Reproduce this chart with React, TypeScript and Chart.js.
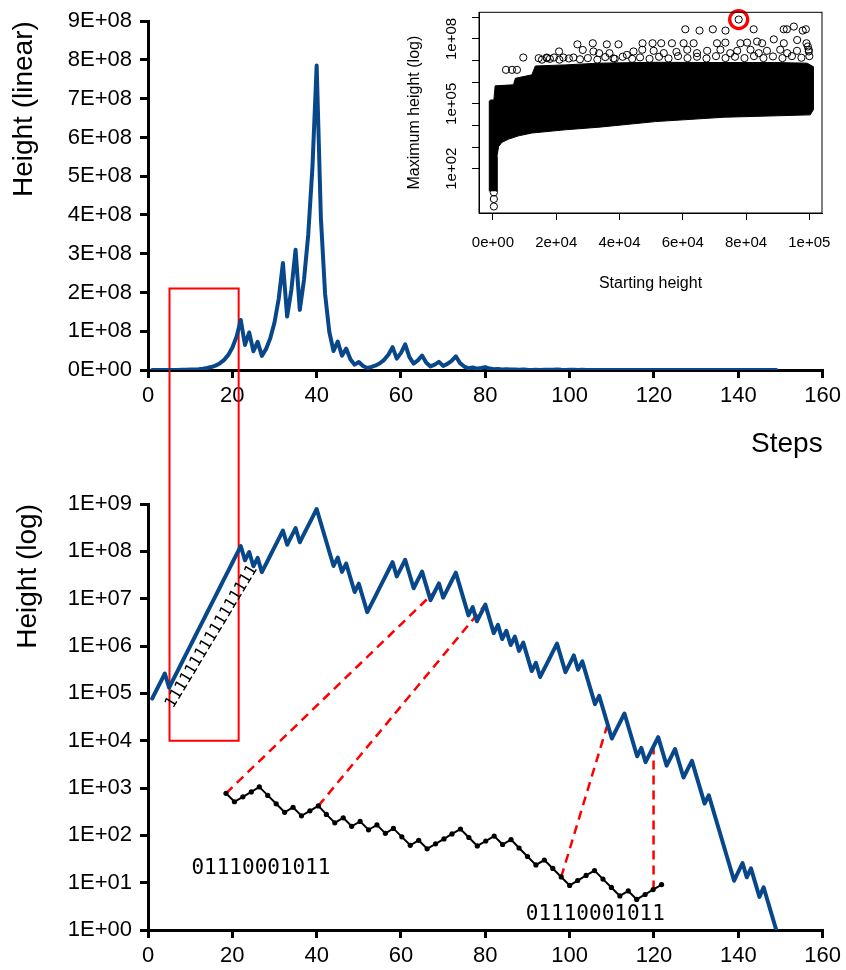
import React, { useEffect, useRef } from 'react';
import { Chart, registerables } from 'chart.js';

Chart.register(...registerables);

// ---------- data ----------
// Height at each step (step 1 = starting height 77671)
const heights = [
  77671, 116507, 174761, 262142, 131071, 196607, 294911, 442367, 663551, 995327,
  1492991, 2239487, 3359231, 5038847, 7558271, 11337407, 17006111, 25509167, 38263751, 57395627,
  86093441, 129140162, 64570081, 96855122, 48427561, 72641342, 36320671, 54481007, 81721511, 122582267,
  183873401, 275810102, 137905051, 206857577, 310286366, 155143183, 232714775, 349072163, 523608245, 785412368,
  392706184, 196353092, 98176546, 49088273, 73632410, 36816205, 55224308, 27612154, 13806077, 20709116,
  10354558, 5177279, 7765919, 11648879, 17473319, 26209979, 39314969, 58972454, 29486227, 44229341,
  66344012, 33172006, 16586003, 24879005, 37318508, 18659254, 9329627, 13994441, 20991662, 10495831,
  15743747, 23615621, 35423432, 17711716, 8855858, 4427929, 6641894, 3320947, 4981421, 7472132,
  3736066, 1868033, 2802050, 1401025, 2101538, 1050769, 1576154, 788077, 1182116, 591058,
  295529, 443294, 221647, 332471, 498707, 748061, 1122092, 561046, 280523, 420785,
  631178, 315589, 473384, 236692, 118346, 59173, 88760, 44380, 22190, 11095,
  16643, 24965, 37448, 18724, 9362, 4681, 7022, 3511, 5267, 7901,
  11852, 5926, 2963, 4445, 6668, 3334, 1667, 2501, 3752, 1876,
  938, 469, 704, 352, 176, 88, 44, 22, 11, 17,
  26, 13, 20, 10, 5, 8, 4, 2, 1,
];

// Black dotted pattern line (bottom panel)
const blackX = [
  18.5, 20.5, 22.5, 24.5, 26.4, 28.4, 30.4, 32.4, 34.4, 36.4,
  38.4, 40.4, 42.3, 44.3, 46.3, 48.3, 50.3, 52.3, 54.3, 56.3,
  58.2, 60.2, 62.2, 64.2, 66.2, 68.2, 70.2, 72.1, 74.1, 76.1,
  78.1, 80.1, 82.1, 84.1, 86.1, 88.0, 90.0, 92.0, 94.0, 96.0,
  98.0, 100.0, 101.9, 103.9, 105.9, 107.9, 109.9, 111.9, 113.9, 115.9,
  117.9, 119.8, 121.8,
];
const blackY = [
  773, 512, 651, 828, 1054, 698, 463, 307, 390, 258,
  329, 419, 277, 184, 234, 155, 197, 131, 166, 110,
  140, 92.8, 61.5, 78.3, 51.9, 66.0, 83.9, 107, 136, 90.1,
  59.7, 75.9, 96.6, 64.0, 81.4, 54.0, 35.7, 23.7, 30.1, 20.0,
  13.2, 8.76, 11.1, 14.2, 18.0, 11.9, 7.93, 5.25, 6.68, 4.43,
  5.63, 7.16, 9.12,
];

// Red dashed connectors [from, to]
const linkA = [{ x: 18.5, y: 773 }, { x: 68, y: 13994441 }];
const linkB = [{ x: 40.4, y: 419 }, { x: 80, y: 7472132 }];
const linkC = [{ x: 98.0, y: 13.2 }, { x: 109, y: 22190 }];
const linkD = [{ x: 119.9, y: 7.16 }, { x: 119.9, y: 10000 }];

// Red zoom rectangle
const rectSteps = [5.1, 21.5];
const rectTopHeight = 2.1e8; // in linear panel
const rectBottomHeight = 1e4; // in log panel

// Text annotations
const patternLabels = [
  { text: '01110001011', x: 10.3, y: 19.5 },
  { text: '01110001011', x: 89.6, y: 2.1 },
];
const oddRunLabel = { text: '11111111111111111', x: 15.1, y: 1.57e6, angle: -59 };

// Ticks
const stepTicks = [0, 20, 40, 60, 80, 100, 120, 140, 160];
const linTickValues = [0, 1e8, 2e8, 3e8, 4e8, 5e8, 6e8, 7e8, 8e8, 9e8];
const linTickLabels = ['0E+00', '1E+08', '2E+08', '3E+08', '4E+08', '5E+08', '6E+08', '7E+08', '8E+08', '9E+08'];
const logTickValues = [1, 1e1, 1e2, 1e3, 1e4, 1e5, 1e6, 1e7, 1e8, 1e9];
const logTickLabels = ['1E+00', '1E+01', '1E+02', '1E+03', '1E+04', '1E+05', '1E+06', '1E+07', '1E+08', '1E+09'];

// Inset: dense region outline (starting height, max height)
const insetMassX = [
  -1150, -1150, -800, 300, 700, 6500, 7100, 12300, 13400, 22900, 33500, 51400, 67700, 88700, 99300, 101200, 101200,
  100300, 73000, 51400, 33500, 22900, 12300, 8100, 5000, 2850, 1800, 1270, 1270,
];
const insetMassY = [
  9, 1.3e5, 1.51e5, 1.51e5, 6.76e5, 7.59e5, 1.51e6, 2.19e6, 5.62e6, 6.31e6, 7.59e6, 8.32e6, 8.13e6, 8.13e6, 7.59e6, 5.25e6, 5.25e4,
  3.09e4, 2.4e4, 1.51e4, 8318, 6310, 4467, 3311, 2344, 1660, 1072, 372, 9,
];
// Inset: individual open circles
const insetPointsX = [
  60800, 65300, 69500, 73500, 82400, 91900, 92900, 95100, 97900, 98900,
  9600, 16990, 19310, 20900, 22270, 25440, 26700, 28390, 31560, 31770,
  33560, 35990, 36830, 39680, 38100, 42320, 44430, 47280, 50450, 53190,
  56570, 60260, 63430, 70820, 73460, 78210, 80320, 83480, 85070, 88760,
  91930, 96150, 99100, 99520, 99840, 4120, 6020, 7600, 14460, 17100,
  47200, 50800, 54000, 58000, 61400, 64500, 67700, 71900, 75000, 77200,
  81400, 84000, 86600, 90800, 93000, 96100, 99800,
  15500, 18000, 21000, 24000, 27500, 30000, 33000, 35500, 38500, 41000,
  44000, 46500, 49500, 52500, 55500, 58500, 61500, 64500, 67500, 70500,
  73500, 76500, 79500, 82500, 85500, 88500, 91500, 94500, 97500, 100000,
  300, 300, 300, 77671,
];
const insetPointsY = [
  2.79e8, 2.43e8, 2.79e8, 2.43e8, 2.79e8, 2.79e8, 2.79e8, 3.72e8, 2.43e8, 2.79e8,
  1.38e7, 1.38e7, 1.38e7, 2.63e7, 1.38e7, 1.38e7, 5.62e7, 3.09e7, 6.31e7, 2.63e7,
  2.19e7, 5.62e7, 2.19e7, 5.62e7, 1.26e7, 1.82e7, 2.63e7, 6.31e7, 6.31e7, 6.31e7,
  6.31e7, 6.31e7, 6.31e7, 6.31e7, 6.76e7, 6.31e7, 6.76e7, 7.59e7, 6.31e7, 9.55e7,
  6.31e7, 8.91e7, 6.31e7, 4.47e7, 2.63e7, 3.72e6, 3.72e6, 3.72e6, 1.29e7, 1.29e7,
  3.16e7, 2.82e7, 2.2e7, 2.5e7, 3.16e7, 2.2e7, 2.82e7, 3.16e7, 2.2e7, 2.82e7,
  3.16e7, 2.2e7, 2.82e7, 3.16e7, 2.2e7, 2.82e7, 3.16e7,
  1.1e7, 1.2e7, 1.1e7, 1.25e7, 1.15e7, 1.3e7, 1.1e7, 1.45e7, 1.2e7, 1.5e7,
  1.2e7, 1.4e7, 1.2e7, 1.5e7, 1.25e7, 1.6e7, 1.3e7, 1.5e7, 1.25e7, 1.6e7,
  1.3e7, 1.5e7, 1.3e7, 1.6e7, 1.3e7, 1.55e7, 1.3e7, 1.6e7, 1.35e7, 1.6e7,
  1.8, 4, 8, 785412368,
];
const insetHighlight = [{ x: 77671, y: 785412368 }];
const insetXTickValues = [0, 2e4, 4e4, 6e4, 8e4, 1e5];
const insetXTickLabels = ['0e+00', '2e+04', '4e+04', '6e+04', '8e+04', '1e+05'];
const insetYTickValues = [1e2, 1e3, 1e4, 1e5, 1e6, 1e7, 1e8, 1e9];
const insetYLabelValues = [1e2, 1e5, 1e8];
const insetYLabelTexts = ['1e+02', '1e+05', '1e+08'];

// ---------- styles ----------
const SANS = "'Liberation Sans', Arial, Helvetica, sans-serif";
const MONO = "'DejaVu Sans Mono', monospace";
const BLUE = '#08488a';
const RED = '#ff0000';

const mainGrid = { drawOnChartArea: false, drawTicks: true, tickLength: 8, color: '#000', lineWidth: 3 };
const mainBorder = { color: '#000', width: 3 };
const mainTickFont = { size: 22, family: SANS };

const topRectPlugin = {
  id: 'topRect',
  beforeDatasetsDraw(chart: any) {
    const xs = chart.scales.x;
    const ys = chart.scales.y;
    const l = xs.getPixelForValue(rectSteps[0]);
    const r = xs.getPixelForValue(rectSteps[1]);
    const t = ys.getPixelForValue(rectTopHeight);
    const ctx = chart.ctx;
    ctx.save();
    ctx.strokeStyle = RED;
    ctx.lineWidth = 2;
    ctx.beginPath();
    ctx.moveTo(l, chart.height);
    ctx.lineTo(l, t);
    ctx.lineTo(r, t);
    ctx.lineTo(r, chart.height);
    ctx.stroke();
    ctx.restore();
  },
};

const bottomRectPlugin = {
  id: 'bottomRect',
  beforeDatasetsDraw(chart: any) {
    const xs = chart.scales.x;
    const ys = chart.scales.y;
    const l = xs.getPixelForValue(rectSteps[0]);
    const r = xs.getPixelForValue(rectSteps[1]);
    const b = ys.getPixelForValue(rectBottomHeight);
    const ctx = chart.ctx;
    ctx.save();
    ctx.strokeStyle = RED;
    ctx.lineWidth = 2;
    ctx.beginPath();
    ctx.moveTo(l, 0);
    ctx.lineTo(l, b);
    ctx.lineTo(r, b);
    ctx.lineTo(r, 0);
    ctx.stroke();
    ctx.restore();
  },
  afterDatasetsDraw(chart: any) {
    const xs = chart.scales.x;
    const ys = chart.scales.y;
    const ctx = chart.ctx;
    ctx.save();
    ctx.fillStyle = '#000';
    ctx.font = `21px ${MONO}`;
    ctx.textAlign = 'left';
    ctx.textBaseline = 'middle';
    patternLabels.forEach((lab) => {
      ctx.fillText(lab.text, xs.getPixelForValue(lab.x), ys.getPixelForValue(lab.y));
    });
    ctx.translate(xs.getPixelForValue(oddRunLabel.x), ys.getPixelForValue(oddRunLabel.y));
    ctx.rotate((oddRunLabel.angle * Math.PI) / 180);
    ctx.font = `16px ${MONO}`;
    ctx.textAlign = 'center';
    ctx.fillText(oddRunLabel.text, 0, 0);
    ctx.restore();
  },
};

const insetPlugin = {
  id: 'insetBox',
  afterDraw(chart: any) {
    const { ctx, chartArea } = chart;
    const ys = chart.scales.y;
    ctx.save();
    ctx.strokeStyle = '#000';
    ctx.lineWidth = 1;
    ctx.strokeRect(chartArea.left, chartArea.top, chartArea.right - chartArea.left, chartArea.bottom - chartArea.top);
    ctx.fillStyle = '#000';
    ctx.font = `15px ${SANS}`;
    ctx.textAlign = 'center';
    ctx.textBaseline = 'middle';
    insetYLabelValues.forEach((v, i) => {
      const y = ys.getPixelForValue(v);
      ctx.save();
      ctx.translate(chartArea.left - 27, y);
      ctx.rotate(-Math.PI / 2);
      ctx.fillText(insetYLabelTexts[i], 0, 0);
      ctx.restore();
    });
    ctx.restore();
  },
};

export default function App() {
  const topRef = useRef<HTMLCanvasElement>(null);
  const botRef = useRef<HTMLCanvasElement>(null);
  const insRef = useRef<HTMLCanvasElement>(null);

  useEffect(() => {
    Chart.defaults.font.family = SANS;
    const charts: any[] = [];

    const stepsData = heights.map((h, i) => ({ x: i + 1, y: h }));

    charts.push(
      new Chart(topRef.current as HTMLCanvasElement, {
        type: 'line',
        data: {
          datasets: [
            {
              data: stepsData,
              borderColor: BLUE,
              borderWidth: 4,
              pointRadius: 0,
              tension: 0,
              fill: false,
              borderJoinStyle: 'round',
              borderCapStyle: 'round',
            },
          ],
        },
        options: {
          responsive: false,
          animation: false,
          events: [],
          layout: { padding: { top: 14, right: 22, left: 0, bottom: 0 } },
          plugins: { legend: { display: false }, tooltip: { enabled: false } },
          scales: {
            x: {
              type: 'linear',
              min: 0,
              max: 160,
              afterBuildTicks: (s: any) => {
                s.ticks = stepTicks.map((v) => ({ value: v }));
              },
              afterFit: (s: any) => {
                s.height = 95;
              },
              grid: mainGrid,
              border: mainBorder,
              ticks: { color: '#000', font: mainTickFont, padding: 5, maxRotation: 0, autoSkip: false },
              title: {
                display: true,
                text: 'Steps',
                align: 'end',
                color: '#000',
                font: { size: 28, family: SANS },
                padding: { top: 0, bottom: 4 },
              },
            },
            y: {
              type: 'linear',
              min: 0,
              max: 9e8,
              afterBuildTicks: (s: any) => {
                s.ticks = linTickValues.map((v) => ({ value: v }));
              },
              afterFit: (s: any) => {
                s.width = 148;
              },
              grid: mainGrid,
              border: mainBorder,
              ticks: {
                color: '#000',
                font: mainTickFont,
                padding: 8,
                autoSkip: false,
                callback: (_v: any, i: number) => linTickLabels[i],
              },
              title: {
                display: true,
                text: 'Height (linear)',
                align: 'end',
                color: '#000',
                font: { size: 28, family: SANS },
                padding: { top: 7, bottom: 0 },
              },
            },
          },
        } as any,
        plugins: [topRectPlugin],
      } as any)
    );

    const dashStyle = {
      borderColor: RED,
      borderWidth: 2.5,
      borderDash: [9, 6],
      pointRadius: 0,
      fill: false,
      tension: 0,
    };

    charts.push(
      new Chart(botRef.current as HTMLCanvasElement, {
        type: 'line',
        data: {
          datasets: [
            {
              data: stepsData,
              borderColor: BLUE,
              borderWidth: 4,
              pointRadius: 0,
              tension: 0,
              fill: false,
              borderJoinStyle: 'round',
              borderCapStyle: 'round',
            },
            {
              data: blackX.map((x, i) => ({ x, y: blackY[i] })),
              borderColor: '#000',
              borderWidth: 2,
              pointRadius: 2.6,
              pointBackgroundColor: '#000',
              pointBorderWidth: 0,
              tension: 0,
              fill: false,
            },
            { data: linkA, ...dashStyle },
            { data: linkB, ...dashStyle },
            { data: linkC, ...dashStyle },
            { data: linkD, ...dashStyle },
          ],
        },
        options: {
          responsive: false,
          animation: false,
          events: [],
          layout: { padding: { top: 39, right: 22, left: 0, bottom: 0 } },
          plugins: { legend: { display: false }, tooltip: { enabled: false } },
          scales: {
            x: {
              type: 'linear',
              min: 0,
              max: 160,
              afterBuildTicks: (s: any) => {
                s.ticks = stepTicks.map((v) => ({ value: v }));
              },
              afterFit: (s: any) => {
                s.height = 40;
              },
              grid: mainGrid,
              border: mainBorder,
              ticks: { color: '#000', font: mainTickFont, padding: 5, maxRotation: 0, autoSkip: false },
            },
            y: {
              type: 'logarithmic',
              min: 1,
              max: 1e9,
              afterBuildTicks: (s: any) => {
                s.ticks = logTickValues.map((v) => ({ value: v }));
              },
              afterFit: (s: any) => {
                s.width = 148;
              },
              grid: mainGrid,
              border: mainBorder,
              ticks: {
                color: '#000',
                font: mainTickFont,
                padding: 8,
                autoSkip: false,
                callback: (_v: any, i: number) => logTickLabels[i],
              },
              title: {
                display: true,
                text: 'Height (log)',
                align: 'end',
                color: '#000',
                font: { size: 28, family: SANS },
                padding: { top: 11, bottom: 0 },
              },
            },
          },
        } as any,
        plugins: [bottomRectPlugin],
      } as any)
    );

    const insetGrid = { drawOnChartArea: false, drawTicks: true, tickLength: 7, color: '#000', lineWidth: 1 };

    charts.push(
      new Chart(insRef.current as HTMLCanvasElement, {
        type: 'line',
        data: {
          datasets: [
            {
              type: 'scatter',
              data: insetHighlight,
              pointRadius: 9,
              pointBorderWidth: 3.3,
              pointBorderColor: RED,
              pointBackgroundColor: 'rgba(0,0,0,0)',
              borderColor: RED,
              backgroundColor: 'rgba(0,0,0,0)',
              showLine: false,
              clip: false,
            },
            {
              type: 'scatter',
              data: insetPointsX.map((x, i) => ({ x, y: insetPointsY[i] })),
              pointRadius: 3.6,
              pointBorderWidth: 1,
              pointBorderColor: '#000',
              pointBackgroundColor: 'rgba(0,0,0,0)',
              borderColor: '#000',
              backgroundColor: 'rgba(0,0,0,0)',
              showLine: false,
              clip: false,
            },
            {
              type: 'line',
              data: insetMassX.map((x, i) => ({ x, y: insetMassY[i] })),
              fill: 'shape',
              backgroundColor: '#000',
              borderColor: '#000',
              borderWidth: 1,
              pointRadius: 0,
              tension: 0,
            },
          ],
        },
        options: {
          responsive: false,
          animation: false,
          events: [],
          layout: { padding: { top: 12, right: 24, left: 0, bottom: 0 } },
          plugins: { legend: { display: false }, tooltip: { enabled: false } },
          scales: {
            x: {
              type: 'linear',
              min: -4400,
              max: 104000,
              afterBuildTicks: (s: any) => {
                s.ticks = insetXTickValues.map((v) => ({ value: v }));
              },
              afterFit: (s: any) => {
                s.height = 87;
              },
              grid: insetGrid,
              border: { color: '#000', width: 1 },
              ticks: {
                color: '#000',
                font: { size: 15, family: SANS },
                padding: 14,
                maxRotation: 0,
                autoSkip: false,
                callback: (_v: any, i: number) => insetXTickLabels[i],
              },
              title: {
                display: true,
                text: 'Starting height',
                color: '#000',
                font: { size: 16, family: SANS },
                padding: { top: 0, bottom: 7 },
              },
            },
            y: {
              type: 'logarithmic',
              min: 0.9,
              max: 1.7e9,
              afterBuildTicks: (s: any) => {
                s.ticks = insetYTickValues.map((v) => ({ value: v }));
              },
              afterFit: (s: any) => {
                s.width = 79;
              },
              grid: insetGrid,
              border: { color: '#000', width: 1 },
              ticks: { color: '#000', autoSkip: false, callback: () => '' },
              title: {
                display: true,
                text: 'Maximum height (log)',
                color: '#000',
                font: { size: 16, family: SANS },
                padding: { top: 5, bottom: 0 },
              },
            },
          },
        } as any,
        plugins: [insetPlugin],
      } as any)
    );

    return () => {
      charts.forEach((c) => c.destroy());
    };
  }, []);

  return (
    <div style={{ position: 'absolute', left: 0, top: 0, width: 846, height: 970, background: '#fff', overflow: 'hidden' }}>
      <canvas ref={topRef} width={846} height={465} style={{ position: 'absolute', left: 0, top: 0, display: 'block' }} />
      <canvas ref={botRef} width={846} height={505} style={{ position: 'absolute', left: 0, top: 465, display: 'block' }} />
      <canvas ref={insRef} width={446} height={300} style={{ position: 'absolute', left: 400, top: 0, display: 'block' }} />
    </div>
  );
}
